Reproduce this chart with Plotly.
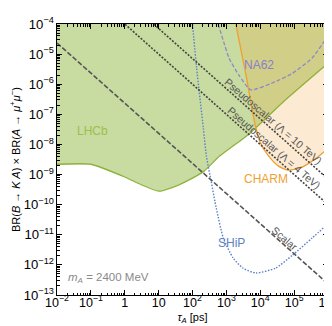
import math
import plotly.graph_objects as go

# ---- data ----
lhcb_tau = [1e-2, 0.1, 1.0, 3.2, 10, 25, 70, 220, 630, 4600, 55000, 1e6]
lhcb_br = [2.2e-9, 2.2e-9, 8.3e-10, 4.5e-10, 2.8e-10, 3.7e-10, 6.2e-10, 1.3e-9, 4.1e-9, 2.2e-8, 3.0e-7, 5.0e-6]

charm_tau = [1900, 3800, 6900, 10200, 16600, 34700, 67600, 151000, 339000, 813000, 1e6]
charm_br = [1e-4, 2.0e-6, 5.1e-8, 1.1e-8, 4.5e-9, 1.9e-9, 1.4e-9, 1.66e-9, 2.8e-9, 6.0e-9, 7.6e-9]

na62_tau = [575, 1200, 2340, 5250, 22900, 89100, 339000, 813000, 1e6]
na62_br = [1e-4, 7.4e-6, 2.0e-6, 6.5e-7, 1.1e-6, 2.3e-6, 7.4e-6, 2.8e-5, 3.4e-5]

ship_tau = [100, 132, 209, 257, 355, 501, 813, 1580, 3090, 7410, 28200, 89100, 339000, 1e6]
ship_br = [1e-4, 3.5e-6, 3.5e-8, 4.1e-9, 6.0e-10, 7.8e-11, 7.8e-12, 1.7e-12, 7.8e-13,
           5.4e-13, 7.8e-13, 2.1e-12, 7.8e-12, 2.3e-11]

line_tau = [1e-2, 1e6]
scalar_br = [2.34e-5, 2.34e-13]
pseudo4_br = [1e-2, 1e-10]
pseudo10_br = [7.1e-2, 7.1e-10]

TOP = 1e-4
FONT = "Liberation Sans, Arial, sans-serif"

fig = go.Figure()

# LHCb excluded region (fill)
fig.add_trace(go.Scatter(
    x=lhcb_tau + [lhcb_tau[-1], lhcb_tau[0]],
    y=lhcb_br + [TOP, TOP],
    fill="toself", fillcolor="rgba(141,179,58,0.48)",
    line=dict(width=0), mode="lines", hoverinfo="skip"))

# CHARM excluded region (fill)
fig.add_trace(go.Scatter(
    x=charm_tau + [charm_tau[-1]],
    y=charm_br + [TOP],
    fill="toself", fillcolor="rgba(240,160,48,0.22)",
    line=dict(width=0), mode="lines", hoverinfo="skip"))

# Boundaries
fig.add_trace(go.Scatter(x=lhcb_tau, y=lhcb_br, mode="lines",
                         line=dict(color="#8db33a", width=1.3, shape="spline", smoothing=0.5)))
fig.add_trace(go.Scatter(x=charm_tau, y=charm_br, mode="lines",
                         line=dict(color="#f0a030", width=1.3, shape="spline", smoothing=0.6)))
fig.add_trace(go.Scatter(x=na62_tau, y=na62_br, mode="lines",
                         line=dict(color="#9088c8", width=1.3, dash="4px,2px", shape="spline", smoothing=0.5)))
fig.add_trace(go.Scatter(x=ship_tau, y=ship_br, mode="lines",
                         line=dict(color="#5b82c6", width=1.4, dash="1.5px,1.5px", shape="spline", smoothing=0.6)))

# Theory lines
fig.add_trace(go.Scatter(x=line_tau, y=scalar_br, mode="lines",
                         line=dict(color="#555555", width=1.6, dash="5px,2px")))
fig.add_trace(go.Scatter(x=line_tau, y=pseudo4_br, mode="lines",
                         line=dict(color="#444444", width=1.6, dash="2px,1.5px")))
fig.add_trace(go.Scatter(x=line_tau, y=pseudo10_br, mode="lines",
                         line=dict(color="#444444", width=1.6, dash="2px,1.5px")))

L = math.log10
ann = [
    dict(x=L(0.11), y=L(2.8e-8), text="LHCb", font=dict(color="#9cbf4c", size=12)),
    dict(x=L(9.1e3), y=L(4.4e-6), text="NA62", font=dict(color="#8a80c8", size=12)),
    dict(x=L(1.45e4), y=L(7.1e-10), text="CHARM", font=dict(color="#f0a030", size=12)),
    dict(x=L(1.4e3), y=L(5.2e-12), text="SHiP", font=dict(color="#5b82c6", size=12)),
    dict(x=L(5.2e4), y=L(7.9e-12), text="Scalar", textangle=41,
         font=dict(color="#555555", size=10.5)),
    dict(x=L(2.4e4), y=L(5.9e-8), text="Pseudoscalar (Λ = 10 TeV)", textangle=41,
         font=dict(color="#555555", size=10.5)),
    dict(x=L(2.65e4), y=L(7.9e-9), text="Pseudoscalar (Λ = 4 TeV)", textangle=41,
         font=dict(color="#555555", size=10.5)),
]
for a in ann:
    a.update(xref="x", yref="y", showarrow=False, xanchor="center", yanchor="middle")
    a["font"]["family"] = FONT
    fig.add_annotation(**a)

fig.add_annotation(x=L(0.018), y=L(3.6e-13), xref="x", yref="y", showarrow=False,
                   xanchor="left", yanchor="middle",
                   text="<i>m</i><sub><i>A</i></sub> = 2400 MeV",
                   font=dict(color="#8a8a8a", size=11.5, family=FONT))

axis_common = dict(
    type="log", dtick=1, exponentformat="power",
    ticks="inside", ticklen=5, tickwidth=1, tickcolor="black",
    showline=True, linecolor="black", linewidth=1, mirror="allticks",
    showgrid=False, zeroline=False, ticklabeloverflow="allow",
    minor=dict(ticks="inside", ticklen=2.5, tickwidth=0.8, tickcolor="black", dtick="D1", showgrid=False),
)

fig.update_xaxes(range=[-2, 6], ticklabelstandoff=-4,
                 tickfont=dict(family=FONT, size=10, color="black"),
                 title=dict(text="<i>τ</i><sub><i>A</i></sub> [ps]", standoff=4,
                            font=dict(family=FONT, size=11, color="black")),
                 **axis_common)
fig.update_yaxes(range=[-13, -4],
                 tickfont=dict(family=FONT, size=10.5, color="black"),
                 title=dict(text="BR(<i>B</i> → <i>K A</i>) × BR(<i>A</i> → <i>μ</i><sup>+</sup><i>μ</i><sup>−</sup>)",
                            standoff=4, font=dict(family=FONT, size=11, color="black")),
                 **axis_common)

fig.update_layout(
    width=332, height=326,
    margin=dict(l=49, r=12, t=16, b=39, autoexpand=False),
    showlegend=False,
    paper_bgcolor="white", plot_bgcolor="white",
    font=dict(family=FONT),
)

fig.write_html("out.html")
